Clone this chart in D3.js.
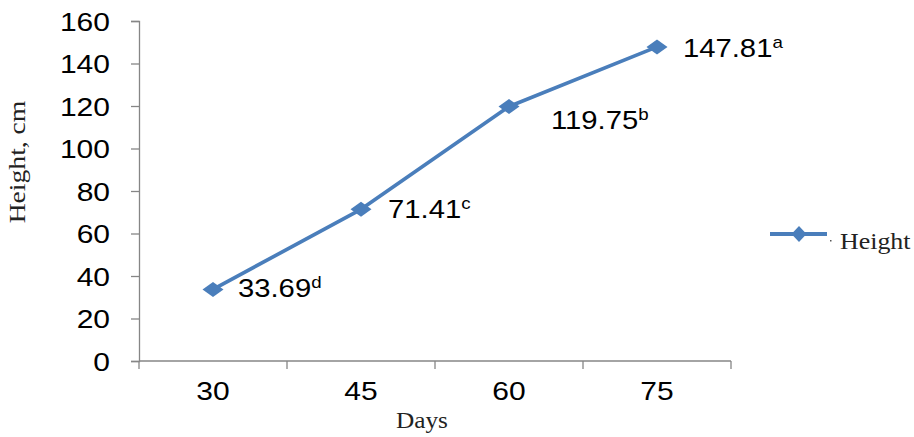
<!DOCTYPE html>
<html><head><meta charset="utf-8">
<script src="https://cdn.jsdelivr.net/npm/d3@7"></script>
<style>html,body{margin:0;padding:0;background:#fff;}</style>
</head><body>
<svg id="c" width="914" height="437"></svg>
<script>
const categories = ["30", "45", "60", "75"];
const values = [33.69, 71.41, 119.75, 147.81];
const letters = ["d", "c", "b", "a"];
const yTicks = [0, 20, 40, 60, 80, 100, 120, 140, 160];
const seriesName = "Height";

const svg = d3.select("#c");
const color = "#4A7EBB", axisColor = "#868686";
const sans = "Liberation Sans, Arial, sans-serif";
const serif = "Liberation Serif, Times New Roman, serif";
const x = d3.scaleBand().domain(categories).range([139, 731]).padding(0);
const y = d3.scaleLinear().domain([0, 160]).range([361, 21]);
const cx = d => x(d) + x.bandwidth() / 2;

// horizontal stretch of text around its x anchor
function stretch(sel, s) {
  sel.each(function () {
    const t = d3.select(this);
    const ax = +t.attr("x") || 0;
    t.attr("transform", `translate(${ax},0) scale(${s},1) translate(${-ax},0)`);
  });
}
function diamondPath(w, h) {
  return `M0,${-h}L${w},0L0,${h}L${-w},0Z`;
}

// y axis
const ya = svg.append("g").attr("transform", "translate(139,0)")
  .call(d3.axisLeft(y).tickValues(yTicks).tickSize(8).tickPadding(21));
ya.select(".domain").attr("stroke", axisColor).attr("stroke-width", 1.3);
ya.selectAll(".tick line").attr("stroke", axisColor).attr("stroke-width", 1.3);
ya.selectAll(".tick text").attr("fill", "#000").attr("font-family", sans)
  .attr("font-size", 25).attr("dy", "0.36em");
stretch(ya.selectAll(".tick text"), 1.2);

// x axis
const xa = svg.append("g").attr("transform", "translate(0,361)");
xa.append("line").attr("x1", 139).attr("x2", 731).attr("y1", 0).attr("y2", 0)
  .attr("stroke", axisColor).attr("stroke-width", 1.3);
const bounds = categories.map(c => x(c)).concat([x(categories[categories.length - 1]) + x.bandwidth()]);
xa.selectAll("line.t").data(bounds).join("line").attr("class", "t")
  .attr("x1", d => d).attr("x2", d => d).attr("y1", 0).attr("y2", 8)
  .attr("stroke", axisColor).attr("stroke-width", 1.3);
const xt = xa.selectAll("text").data(categories).join("text")
  .attr("x", d => cx(d)).attr("y", 39).attr("text-anchor", "middle")
  .attr("font-family", sans).attr("font-size", 25).attr("fill", "#000").text(d => d);
stretch(xt, 1.2);

// titles
svg.append("text").attr("transform", "translate(25,162) rotate(-90) scale(1.15,1)").attr("text-anchor", "middle")
  .attr("font-family", serif).attr("font-size", 24).attr("fill", "#222")
  .text("Height, cm");
const dt = svg.append("text").attr("x", 422).attr("y", 428).attr("text-anchor", "middle")
  .attr("font-family", serif).attr("font-size", 23).attr("fill", "#222")
  .text("Days");
stretch(dt, 1.1);

// line
const pts = categories.map((c, i) => [cx(c), y(values[i])]);
svg.append("path").attr("d", d3.line()(pts)).attr("fill", "none").attr("stroke", color)
  .attr("stroke-width", 3.7).attr("stroke-linejoin", "round");
svg.selectAll("path.m").data(pts).join("path").attr("class", "m")
  .attr("transform", d => `translate(${d[0]},${d[1]})`).attr("d", diamondPath(10.5, 7.5)).attr("fill", color);

// labels
const offs = [[25, 8], [27, 9], [42, 22], [26, 10]];
const lab = svg.selectAll("text.l").data(values).join("text").attr("class", "l")
  .attr("x", (d, i) => pts[i][0] + offs[i][0])
  .attr("y", (d, i) => pts[i][1] + offs[i][1])
  .attr("font-family", sans).attr("font-size", 25).attr("fill", "#000");
lab.append("tspan").text(d => d.toFixed(2));
lab.append("tspan").attr("font-size", 16).attr("dy", -9).text((d, i) => letters[i]);
stretch(lab, 1.17);

// legend
const lg = svg.append("g").attr("transform", "translate(770,234)");
lg.append("line").attr("x1", 0).attr("x2", 57).attr("stroke", color).attr("stroke-width", 4);
lg.append("path").attr("transform", "translate(29,0)").attr("d", diamondPath(7.5, 8)).attr("fill", color);
lg.append("rect").attr("x", 60).attr("y", 6).attr("width", 1.5).attr("height", 1.5).attr("fill", "#555");
const lt = lg.append("text").attr("x", 70).attr("y", 15).attr("font-family", serif)
  .attr("font-size", 24).attr("fill", "#222").text(seriesName);
stretch(lt, 1.08);
</script>
</body></html>
